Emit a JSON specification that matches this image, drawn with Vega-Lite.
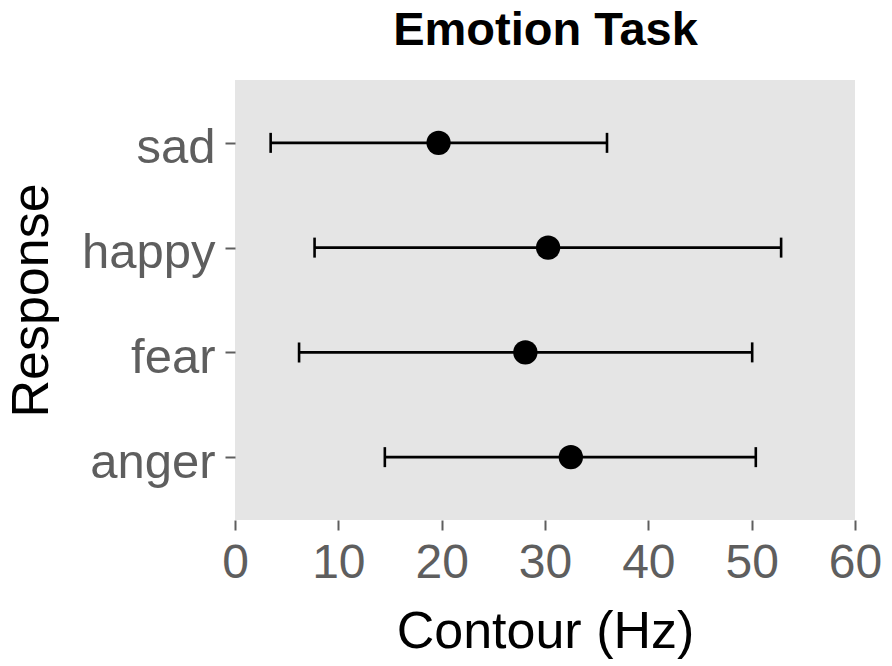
{
  "$schema": "https://vega.github.io/schema/vega-lite/v6.json",
  "width": 620,
  "height": 440,
  "autosize": {"type": "none"},
  "padding": {"left": 235, "top": 80, "right": 37, "bottom": 146},
  "background": "white",
  "config": {
    "view": {"fill": "#E5E5E5", "stroke": null},
    "axis": {
      "domain": false,
      "grid": false,
      "tickColor": "#5e5e5e",
      "tickWidth": 2,
      "tickSize": 10,
      "labelFont": "Liberation Sans",
      "labelColor": "#5e5e5e",
      "titleFont": "Liberation Sans",
      "titleColor": "black",
      "titleFontWeight": "normal"
    }
  },
  "data": {
    "values": [
      {"response": "sad", "mean": 19.7, "lo": 3.45, "hi": 36.0},
      {"response": "happy", "mean": 30.3, "lo": 7.7, "hi": 52.85},
      {"response": "fear", "mean": 28.1, "lo": 6.2, "hi": 50.05},
      {"response": "anger", "mean": 32.5, "lo": 14.5, "hi": 50.4}
    ]
  },
  "resolve": {"axis": {"x": "independent"}},
  "encoding": {
    "y": {
      "field": "response",
      "type": "nominal",
      "sort": ["sad", "happy", "fear", "anger"],
      "scale": {"type": "point", "padding": 0.6},
      "axis": {
        "title": "Response",
        "titleFontSize": 52,
        "labelFontSize": 49,
        "labelPadding": 10,
        "labelOffset": 5,
        "titleAngle": -90,
        "titleX": -188,
        "titleY": 220,
        "titleBaseline": "alphabetic",
        "titleAlign": "center"
      }
    }
  },
  "layer": [
    {
      "mark": {"type": "rule", "color": "black", "strokeWidth": 2.6, "opacity": 1},
      "encoding": {
        "x": {
          "field": "lo",
          "type": "quantitative",
          "scale": {"domain": [0, 60], "nice": false, "zero": false},
          "axis": {
            "title": "Contour (Hz)",
            "values": [0, 10, 20, 30, 40, 50, 60],
            "titleFontSize": 52,
            "labelFontSize": 48,
            "labelPadding": 9,
            "labelFlush": false,
            "titleX": 310,
            "titleY": 127,
            "titleBaseline": "alphabetic",
            "titleAlign": "center"
          }
        },
        "x2": {"field": "hi"}
      }
    },
    {
      "mark": {"type": "tick", "color": "black", "opacity": 1, "thickness": 2.6, "size": 20, "orient": "vertical"},
      "encoding": {"x": {"field": "lo", "type": "quantitative", "axis": null}}
    },
    {
      "mark": {"type": "tick", "color": "black", "opacity": 1, "thickness": 2.6, "size": 20, "orient": "vertical"},
      "encoding": {"x": {"field": "hi", "type": "quantitative", "axis": null}}
    },
    {
      "mark": {"type": "point", "filled": true, "color": "black", "opacity": 1, "size": 590},
      "encoding": {
        "x": {
          "field": "mean",
          "type": "quantitative",
          "axis": {
            "orient": "top",
            "title": "Emotion Task",
            "labels": false,
            "ticks": false,
            "domain": false,
            "titleFontSize": 47,
            "titleFontWeight": "bold",
            "titleX": 310,
            "titleY": -36,
            "titleBaseline": "alphabetic",
            "titleAlign": "center"
          }
        }
      }
    }
  ]
}
